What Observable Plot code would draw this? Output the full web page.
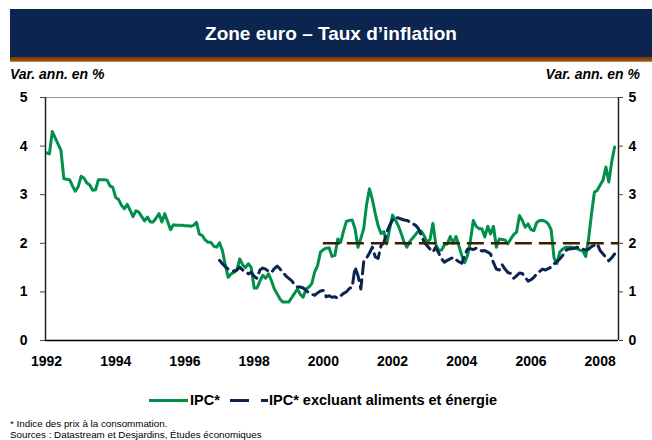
<!DOCTYPE html>
<html><head><meta charset="utf-8">
<script src="https://cdn.jsdelivr.net/npm/d3@7"></script>
<script src="https://cdn.jsdelivr.net/npm/@observablehq/plot@0.6"></script>
<style>
body{margin:0;background:#fff;font-family:"Liberation Sans",Arial,sans-serif;color:#000;}
#page{position:relative;width:652px;height:440px;overflow:hidden;}
#banner{position:absolute;left:10px;top:9px;width:642px;height:48px;background:#0b2550;color:#fff;font-weight:bold;font-size:19px;text-align:center;line-height:50px;}
#strip{position:absolute;left:10px;top:57px;width:642px;height:5px;background:linear-gradient(#7a3a00,#8f4c08 65%,#c89a66);}
.unit{position:absolute;top:66px;font-weight:bold;font-style:italic;font-size:14px;}
#chart{position:absolute;left:0;top:85px;}
.leg{position:absolute;top:392px;font-weight:bold;font-size:14.5px;line-height:17px;}
.legsw{position:absolute;top:392px;}
.note{position:absolute;left:10px;font-size:9.8px;line-height:11px;}
</style></head>
<body><div id="page">
<div id="banner">Zone euro – Taux d’inflation</div>
<div id="strip"></div>
<div class="unit" style="left:10px">Var. ann. en %</div>
<div class="unit" style="right:12px">Var. ann. en %</div>
<div id="chart"></div>
<svg class="legsw" style="left:149px" width="40" height="17"><line x1="0" x2="39" y1="8.5" y2="8.5" stroke="#00904c" stroke-width="3"/></svg>
<div class="leg" style="left:190px">IPC*</div>
<svg class="legsw" style="left:230px" width="38" height="17"><line x1="0" x2="38" y1="8.5" y2="8.5" stroke="#0b2550" stroke-width="3" stroke-dasharray="19,12"/></svg>
<div class="leg" style="left:269px">IPC* excluant aliments et énergie</div>
<div class="note" style="top:418px">* Indice des prix à la consommation.</div>
<div class="note" style="top:429px">Sources : Datastream et Desjardins, Études économiques</div>
</div>
<script>
// Monthly values, IPC* from January 1992
const ipcStart = 1992;
const ipc = [
 3.86,3.84,4.30,4.17,4.04,3.91,3.33,3.32,3.31,3.18,3.07,3.17,
 3.38,3.34,3.24,3.20,3.09,3.10,3.31,3.31,3.31,3.30,3.18,3.15,
 2.94,2.90,2.78,2.71,2.80,2.68,2.55,2.67,2.64,2.55,2.46,2.54,
 2.44,2.44,2.52,2.61,2.44,2.61,2.45,2.28,2.38,2.37,2.37,2.37,
 2.36,2.36,2.35,2.37,2.43,2.19,2.16,2.07,2.02,2.02,1.94,1.92,
 2.01,1.85,1.55,1.30,1.37,1.40,1.45,1.68,1.56,1.50,1.58,1.50,
 1.08,1.08,1.22,1.34,1.28,1.37,1.23,1.06,0.96,0.85,0.79,0.79,
 0.79,0.88,0.97,1.06,0.95,0.89,1.06,1.10,1.17,1.41,1.54,1.82,
 1.87,1.90,1.91,1.73,1.75,2.09,2.02,2.25,2.45,2.47,2.48,2.30,
 1.92,2.10,2.30,2.80,3.12,2.90,2.61,2.36,2.20,2.24,1.99,2.30,
 2.58,2.48,2.36,2.20,2.02,1.92,2.04,2.11,2.18,2.26,2.25,2.15,
 2.02,2.08,2.41,1.98,1.85,1.86,1.97,1.99,2.14,2.00,2.14,1.95,
 1.75,1.60,1.75,2.05,2.47,2.35,2.30,2.30,2.13,2.35,2.19,2.35,
 1.92,2.09,2.08,2.07,1.99,2.09,2.18,2.23,2.57,2.47,2.33,2.40,
 2.28,2.26,2.43,2.47,2.47,2.45,2.40,2.28,1.70,1.58,1.82,1.88,
 1.92,1.92,1.92,1.90,1.89,1.86,1.84,1.73,2.10,2.60,3.05,3.09,
 3.20,3.30,3.57,3.26,3.67,3.98
];
// Monthly values, IPC* excluding food and energy, from January 1997
const coreStart = 1997;
const core = [
 1.65,1.58,1.52,1.47,1.44,1.43,1.45,1.51,1.45,1.42,1.37,1.40,
 1.32,1.28,1.45,1.49,1.47,1.42,1.40,1.48,1.53,1.47,1.40,1.33,
 1.28,1.23,1.15,1.10,1.10,1.08,1.03,0.98,0.95,0.93,0.98,1.02,
 1.03,0.90,0.92,0.89,0.90,0.87,0.92,0.97,1.00,1.07,1.10,1.51,
 1.34,1.06,1.62,1.70,1.80,1.92,1.72,1.69,1.95,2.02,2.23,2.37,
 2.48,2.54,2.52,2.50,2.48,2.47,2.44,2.40,2.37,2.30,2.16,2.02,
 1.95,1.88,1.82,1.92,1.80,1.68,1.61,1.65,1.68,1.71,1.66,1.62,
 1.59,1.75,1.88,1.89,1.87,1.90,1.88,1.84,1.85,1.82,1.78,1.60,
 1.47,1.45,1.56,1.47,1.40,1.38,1.28,1.33,1.39,1.38,1.30,1.22,
 1.25,1.30,1.37,1.42,1.47,1.45,1.48,1.51,1.58,1.62,1.68,1.75,
 1.85,1.88,1.89,1.90,1.92,1.90,1.88,1.86,1.88,1.93,1.96,1.99,
 1.85,1.78,1.71,1.64,1.70,1.78
];
// ECB target
const targetValue = 2;
const targetFrom = 2000;
const xTicks = [1992,1994,1996,1998,2000,2002,2004,2006,2008];
const yTicks = [0,1,2,3,4,5];
const xDomain = [1991.97, 2008.53];

const ipcData = ipc.map((v,i)=>({t: ipcStart + i/12, v}));
const coreData = core.map((v,i)=>({t: coreStart + i/12, v}));

const font = '"Liberation Sans", Arial, sans-serif';
const chart = Plot.plot({
  width: 652, height: 300,
  marginLeft: 45, marginRight: 34, marginTop: 12, marginBottom: 45,
  style: {fontFamily: font, fontSize: "14px", fontWeight: "bold", color: "#000", background: "transparent"},
  x: {domain: xDomain, label: null},
  y: {domain: [0, 5], label: null},
  marks: [
    Plot.ruleY([5], {stroke: "#9a9a9a", strokeWidth: 1}),
    Plot.line(ipcData, {x: "t", y: "v", stroke: "#00904c", strokeWidth: 3, strokeLinejoin: "round"}),
    Plot.line(coreData, {x: "t", y: "v", stroke: "#0b2550", strokeWidth: 3, strokeDasharray: "12,6"}),
    Plot.ruleY([targetValue], {x1: targetFrom, x2: xDomain[1], stroke: "#3d1c00", strokeWidth: 2.5, strokeDasharray: "17,7"}),
    Plot.ruleY([0], {stroke: "#000", strokeWidth: 1.5}),
    Plot.ruleX(xDomain, {stroke: "#222", strokeWidth: 1.5}),
    Plot.axisY(yTicks, {anchor: "left", tickSize: 5, tickPadding: 13, stroke: "#444", fontSize: 14, fontWeight: "bold"}),
    Plot.axisY(yTicks, {anchor: "right", tickSize: 4, tickPadding: 6, stroke: "#444", fontSize: 14, fontWeight: "bold"}),
    Plot.axisX(xTicks, {anchor: "bottom", tickSize: 0, tickPadding: 16, tickFormat: d => `${d}`, fontSize: 14, fontWeight: "bold"})
  ]
});
document.getElementById("chart").append(chart);
</script>
</body></html>
